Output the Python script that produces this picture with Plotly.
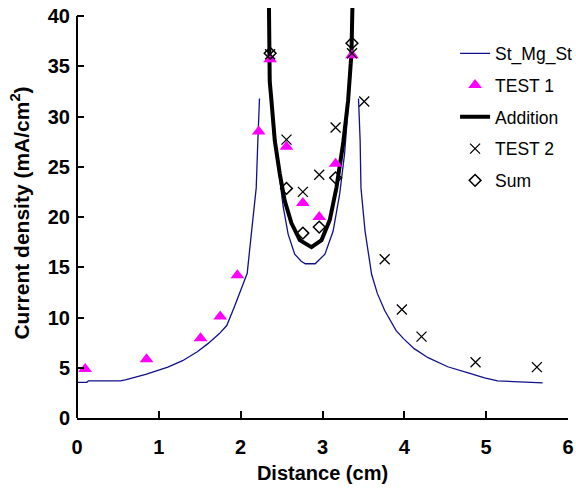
import plotly.graph_objects as go

# St_Mg_St simulated profile (three branches separated by gaps)
st_x = [0.0, 0.12, 0.14, 0.53, 0.59, 0.84, 1.11, 1.29, 1.47, 1.60, 1.74, 1.83, 1.92, 2.01, 2.08, 2.13, 2.17, 2.19, 2.21, 2.23,
        None,
        2.35, 2.38, 2.42, 2.47, 2.52, 2.58, 2.66, 2.74, 2.79, 2.91, 2.97, 3.03, 3.13, 3.21, 3.27, 3.31, 3.34,
        None,
        3.44, 3.46, 3.47, 3.52, 3.60, 3.67, 3.76, 3.90, 3.99, 4.12, 4.29, 4.53, 4.78, 4.98, 5.14, 5.51, 5.69]
st_y = [3.55, 3.55, 3.7, 3.7, 3.8, 4.35, 5.07, 5.7, 6.6, 7.4, 8.4, 9.2, 11.0, 13.0, 14.4, 18.3, 21.0, 22.9, 27.6, 31.8,
        None,
        36.0, 31.0, 27.5, 24.0, 21.0, 18.3, 16.3, 15.6, 15.35, 15.35, 15.8, 16.3, 18.6, 22.3, 26.3, 30.6, 35.0,
        None,
        31.8, 27.6, 22.9, 18.6, 14.3, 12.4, 10.7, 8.7, 7.9, 6.9, 6.0, 5.1, 4.5, 4.0, 3.7, 3.6, 3.5]

# TEST 1 measurements
t1_x = [0.10, 0.85, 1.51, 1.75, 1.96, 2.22, 2.36, 2.56, 2.76, 2.96, 3.16, 3.36]
t1_y = [4.87, 5.85, 7.94, 10.1, 14.2, 28.5, 35.7, 27.0, 21.4, 20.0, 25.3, 36.1]

# Addition curve
add_x = [2.345, 2.347, 2.355, 2.376, 2.417, 2.478, 2.539, 2.62, 2.723, 2.865, 2.988, 3.089, 3.171, 3.252, 3.313, 3.354, 3.367]
add_y = [41.5, 36.5, 33.5, 31.6, 27.6, 24.3, 21.6, 19.4, 17.7, 17.0, 17.7, 19.7, 22.95, 27.3, 31.6, 36.3, 41.5]

# TEST 2 measurements
t2_x = [2.36, 2.56, 2.76, 2.96, 3.16, 3.36, 3.51, 3.76, 3.97, 4.21, 4.87, 5.62]
t2_y = [36.2, 27.7, 22.5, 24.2, 28.9, 36.3, 31.5, 15.8, 10.8, 8.1, 5.55, 5.06]

# Sum
sum_x = [2.36, 2.56, 2.76, 2.96, 3.16, 3.36]
sum_y = [36.3, 22.85, 18.4, 19.0, 23.9, 37.3]

x_ticks = [0, 1, 2, 3, 4, 5, 6]
y_ticks = [0, 5, 10, 15, 20, 25, 30, 35, 40]

FONT = "Liberation Sans"

fig = go.Figure()
fig.add_trace(go.Scatter(x=st_x, y=st_y, mode="lines", name="St_Mg_St",
                         line=dict(color="#10108a", width=1.3), connectgaps=False,
                         legendgroup="a", legendrank=1))
fig.add_trace(go.Scatter(x=add_x, y=add_y, mode="lines", name="Addition",
                         line=dict(color="black", width=4),
                         legendgroup="c", legendrank=3))
fig.add_trace(go.Scatter(x=t1_x, y=t1_y, mode="markers", name="TEST 1",
                         marker=dict(symbol="triangle-up", size=12, color="#ff00ff"),
                         legendgroup="b", legendrank=2))
fig.add_trace(go.Scatter(x=t2_x, y=t2_y, mode="markers", name="TEST 2",
                         marker=dict(symbol="x-thin", size=10, color="black",
                                     line=dict(color="black", width=1.3)),
                         legendgroup="d", legendrank=4))
fig.add_trace(go.Scatter(x=sum_x, y=sum_y, mode="markers", name="Sum",
                         marker=dict(symbol="diamond-open", size=9, color="black",
                                     line=dict(color="black", width=1.5)),
                         legendgroup="e", legendrank=5))

# left axis line, stopping at the top tick
fig.add_shape(type="line", xref="paper", x0=0, x1=0, yref="y", y0=y_ticks[0], y1=y_ticks[-1],
              line=dict(color="black", width=2))

fig.update_layout(
    width=576, height=488,
    margin=dict(l=77, r=8, t=8, b=70, autoexpand=False),
    paper_bgcolor="white", plot_bgcolor="white",
    font=dict(family=FONT, color="black"),
    showlegend=True,
    legend=dict(x=0.77, y=0.933, xanchor="left", yanchor="top",
                bgcolor="rgba(0,0,0,0)", font=dict(family=FONT, size=17.5),
                traceorder="grouped", tracegroupgap=6),
    xaxis=dict(range=[0, 6], tickvals=x_ticks, ticks="inside", ticklen=7, tickwidth=2,
               tickcolor="black", showline=True, linecolor="black", linewidth=2,
               showgrid=False, zeroline=False, ticklabelstandoff=10, automargin=False,
               tickfont=dict(family=FONT, size=20, weight="bold"),
               title=dict(text="Distance (cm)", standoff=9,
                          font=dict(family=FONT, size=20, weight="bold"))),
    yaxis=dict(range=[0, 40.8], tickvals=y_ticks, ticks="inside", ticklen=7, tickwidth=2,
               tickcolor="black", showline=False, automargin=False,
               showgrid=False, zeroline=False, ticklabelstandoff=6,
               tickfont=dict(family=FONT, size=20, weight="bold"),
               title=dict(text="Current density (mA/cm<sup>2</sup>)", standoff=12,
                          font=dict(family=FONT, size=21, weight="bold"))),
)

fig.write_html("out.html")
